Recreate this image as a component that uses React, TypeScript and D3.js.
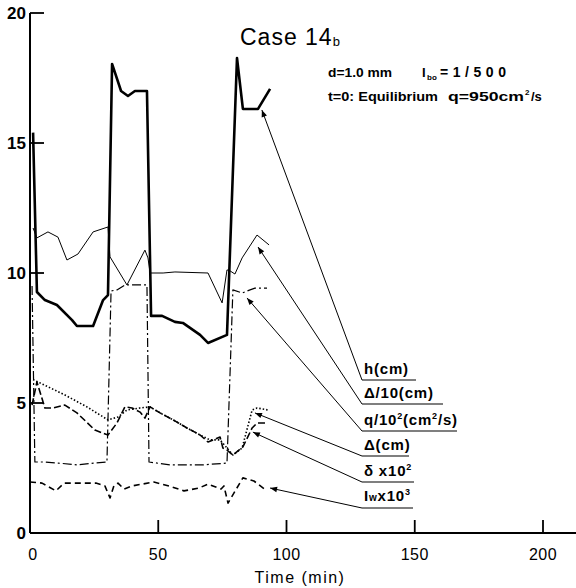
import * as d3 from 'd3';

// time (min) and values
const hTime = [1.2, 2.7, 5.8, 10.5, 16.4, 18.3, 24.6, 28.5, 30.4, 32.0, 35.5, 38.2, 40.9, 45.6, 47.2, 51.5, 56.5, 59.6, 66.3, 69.4, 76.8, 80.7, 83.0, 88.9, 93.6];
const hVal = [15.4, 9.27, 8.96, 8.77, 8.19, 7.96, 7.96, 8.96, 9.15, 18.04, 17.0, 16.81, 17.0, 17.0, 8.35, 8.35, 8.12, 8.08, 7.62, 7.31, 7.62, 18.27, 16.31, 16.31, 17.08];

const d10Time = [1.2, 2.7, 7.0, 10.9, 14.4, 18.7, 24.6, 30.4, 31.2, 37.8, 44.8, 46.0, 46.8, 51.9, 56.5, 69.4, 74.9, 76.8, 78.0, 79.9, 82.7, 88.5, 93.2];
const d10Val = [11.73, 11.35, 11.58, 11.38, 10.5, 10.73, 11.58, 11.77, 10.62, 9.54, 10.88, 10.58, 10.0, 10.0, 10.04, 10.0, 8.85, 10.12, 10.08, 9.96, 10.58, 11.46, 11.08];

const qTime = [0.8, 1.9, 5.8, 10.9, 18.3, 25.3, 30.0, 31.6, 33.9, 37.0, 45.6, 46.4, 54.6, 67.4, 76.8, 79.1, 82.7, 85.8, 87.7, 92.4];
const qVal = [9.5, 2.73, 2.73, 2.69, 2.62, 2.69, 2.73, 9.31, 9.35, 9.54, 9.54, 2.73, 2.62, 2.62, 2.69, 9.35, 9.23, 9.35, 9.42, 9.42];

const dTime = [1.2, 13.6, 22.2, 30.4, 34.3, 37.8, 42.9, 46.8, 50.7, 55.8, 61.2, 66.3, 70.2, 74.1, 76.8, 79.1, 82.7, 86.6, 88.5, 92.8];
const dVal = [5.9, 5.31, 4.85, 4.35, 4.46, 4.73, 4.81, 4.85, 4.62, 4.35, 4.04, 3.77, 3.58, 3.58, 3.27, 3.0, 3.27, 4.73, 4.81, 4.73];

const sTime = [0.8, 2.7, 5.8, 9.0, 13.6, 18.3, 25.3, 30.4, 33.9, 37.0, 39.8, 42.9, 44.8, 46.8, 50.7, 55.8, 61.2, 66.3, 69.4, 74.1, 75.2, 76.8, 79.1, 83.0, 86.6, 88.5, 92.8];
const sVal = [4.92, 5.81, 4.81, 4.81, 4.92, 4.62, 3.96, 3.77, 4.23, 4.85, 4.81, 4.65, 4.42, 4.85, 4.62, 4.35, 4.04, 3.77, 3.5, 3.69, 3.27, 3.19, 3.0, 3.31, 4.04, 4.23, 4.23];

const iwTime = [0, 4.7, 10.1, 13.3, 25.7, 29.2, 31.2, 32.7, 34.3, 36.6, 39.8, 48.3, 54.2, 60.0, 65.9, 69.4, 74.5, 75.6, 77.2, 83.0, 87.3, 92.4];
const iwVal = [1.96, 1.92, 1.62, 1.92, 1.92, 1.81, 1.35, 1.81, 1.92, 1.69, 1.81, 1.96, 1.81, 1.62, 1.73, 1.88, 1.69, 1.81, 1.15, 2.12, 2.0, 1.62];

const yTicks = [0, 5, 10, 15, 20];
const xTicks = [50, 100, 150, 200];
const xLabels = [0, 50, 100, 150, 200];

// where each arrow points (time, value)
const tipTime = [90.4, 88.9, 84.6, 87.7, 86.9, 93.6];
const tipVal = [16.27, 11.0, 9.04, 4.62, 3.88, 1.73];

const W = 576;
const H = 588;
const x = d3.scaleLinear().domain([0, 200]).range([30, 543]);
const y = d3.scaleLinear().domain([0, 20]).range([533, 13]);

const font = "'Liberation Sans', Arial, sans-serif";

function path(ts: number[], vs: number[]) {
  const line = d3.line<number>().x((_, i) => x(ts[i])).y((v) => y(v));
  return line(vs) || '';
}

const series = [
  { t: hTime, v: hVal, w: 2.6, dash: '' },
  { t: d10Time, v: d10Val, w: 1, dash: '' },
  { t: qTime, v: qVal, w: 1.2, dash: '9,3,2,3' },
  { t: dTime, v: dVal, w: 1.6, dash: '1.5,2' },
  { t: sTime, v: sVal, w: 1.6, dash: '7,3' },
  { t: iwTime, v: iwVal, w: 1.6, dash: '6,4' },
];

// label rows: baseline y, underline y, underline right end
const rows = [
  { base: 374, ul: 380, end: 416 },
  { base: 398, ul: 404, end: 443 },
  { base: 425, ul: 431, end: 457 },
  { base: 450, ul: 456, end: 409 },
  { base: 476, ul: 482, end: 414 },
  { base: 501, ul: 508, end: 413 },
];

function labelText(i: number) {
  const fs = 15;
  switch (i) {
    case 0:
      return <>h(cm)</>;
    case 1:
      return <>Δ/10(cm)</>;
    case 2:
      return (
        <>
          q/10<tspan dy={-6} fontSize={9}>2</tspan>
          <tspan dy={6} fontSize={fs}>(cm</tspan>
          <tspan dy={-6} fontSize={9}>2</tspan>
          <tspan dy={6} fontSize={fs}>/s)</tspan>
        </>
      );
    case 3:
      return <>Δ(cm)</>;
    case 4:
      return (
        <>
          δ x10<tspan dy={-6} fontSize={9}>2</tspan>
        </>
      );
    default:
      return (
        <>
          I<tspan fontSize={10}>w</tspan>
          <tspan fontSize={fs}>x10</tspan>
          <tspan dy={-6} fontSize={9}>3</tspan>
        </>
      );
  }
}

export default function App() {
  return (
    <svg width={W} height={H} style={{ position: 'absolute', left: 0, top: 0, background: '#fff' }} fontFamily={font}>
      <defs>
        <marker id="arr" viewBox="0 0 10 10" refX="10" refY="5" markerWidth="9" markerHeight="7" orient="auto" markerUnits="userSpaceOnUse">
          <path d="M0,1 L10,5 L0,9 Z" fill="#000" />
        </marker>
      </defs>

      {/* axes */}
      <line x1={x(0)} x2={x(0)} y1={y(20)} y2={y(0)} stroke="#000" strokeWidth={2} />
      <line x1={x(0)} x2={W} y1={y(0)} y2={y(0)} stroke="#000" strokeWidth={2.2} />
      {yTicks.map((v) => (
        <g key={v}>
          {v > 0 && <line x1={x(0)} x2={x(0) + 14} y1={y(v)} y2={y(v)} stroke="#000" strokeWidth={1.8} />}
          <text x={x(0) - 4} y={y(v) + 6} textAnchor="end" fontSize={17} fontWeight="bold">{v}</text>
        </g>
      ))}
      {xTicks.map((t) => (
        <line key={t} x1={x(t)} x2={x(t)} y1={y(0)} y2={y(0) - 13} stroke="#000" strokeWidth={1.8} />
      ))}
      {xLabels.map((t) => (
        <text key={t} x={x(t) + (t === 0 ? 3 : 0)} y={560} textAnchor="middle" fontSize={16} letterSpacing={0.5}>{t}</text>
      ))}
      <text x={300} y={583} textAnchor="middle" fontSize={16} letterSpacing={1.5}>Time  (min)</text>

      {/* series */}
      {series.map((s, i) => (
        <path key={i} d={path(s.t, s.v)} fill="none" stroke="#000" strokeWidth={s.w} strokeDasharray={s.dash || undefined} strokeLinejoin="round" />
      ))}

      {/* labels with leaders */}
      {rows.map((r, i) => (
        <g key={i}>
          <line x1={362} x2={r.end} y1={r.ul} y2={r.ul} stroke="#000" strokeWidth={1.2} />
          <line x1={362} y1={r.ul} x2={x(tipTime[i])} y2={y(tipVal[i])} stroke="#000" strokeWidth={1} markerEnd="url(#arr)" />
          <text x={364} y={r.base} fontSize={15} fontWeight="bold" letterSpacing={0.8}>{labelText(i)}</text>
        </g>
      ))}

      {/* title and notes */}
      <text x={240} y={45} fontSize={23} letterSpacing={1}>
        Case  14<tspan fontSize={13} dy={1}>b</tspan>
      </text>
      <g fontSize={13} fontWeight="bold">
        <text x={328} y={77} textLength={64} lengthAdjust="spacingAndGlyphs">d=1.0 mm</text>
        <text x={422} y={77}>I</text>
        <text x={427} y={80} fontSize={8}>bo</text>
        <text x={440} y={77} fontSize={14} textLength={66} lengthAdjust="spacing">=1/500</text>
        <text x={328} y={101} textLength={110} lengthAdjust="spacingAndGlyphs">t=0: Equilibrium</text>
        <text x={448} y={101} textLength={76} lengthAdjust="spacingAndGlyphs">q=950cm</text>
        <text x={525} y={95} fontSize={8}>2</text>
        <text x={531} y={101}>/s</text>
      </g>
    </svg>
  );
}
